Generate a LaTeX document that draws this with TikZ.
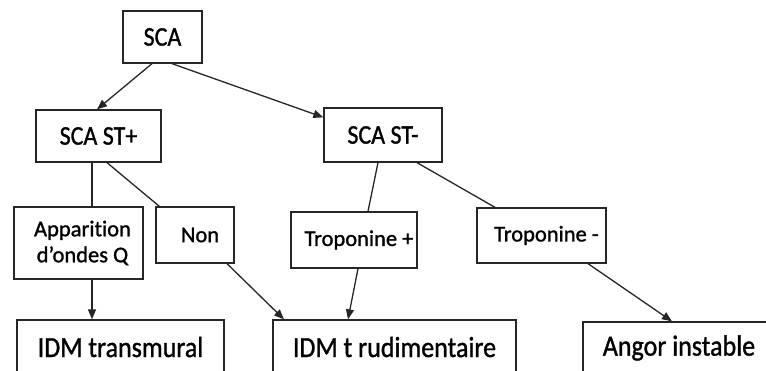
\documentclass[tikz,border=0pt]{standalone}
\usepackage{fontspec}
\setmainfont{Carlito}[FakeBold=1.2,Ligatures=NoCommon]
\usetikzlibrary{arrows.meta}
\newcommand{\tallq}[1]{\scalebox{1}[1.12]{#1}}
\begin{document}
\begin{tikzpicture}[x=1pt,y=-1pt,
  box/.style={draw=black!85,line width=1.3pt,rectangle,inner sep=0pt,align=center},
  mid/.style={box,font=\fontsize{22.5}{26}\selectfont},
  top/.style={box,font=\fontsize{24}{28}\selectfont},
  big/.style={box,font=\fontsize{26}{30}\selectfont},
  conn/.style={draw=black!85,line width=1.3pt},
  arr/.style={conn,-{Triangle[length=10pt,width=8pt]}}]
\useasboundingbox (0,0) rectangle (766,371);
\clip (0,0) rectangle (766,371);
\node[top,minimum width=79pt,minimum height=52pt] (sca) at (162.5,37) {\tallq{SCA}};
\node[top,minimum width=125pt,minimum height=52pt] (stp) at (98.5,136) {\tallq{SCA ST+}};
\node[top,minimum width=118pt,minimum height=54pt] (stm) at (383,135) {\tallq{SCA ST-}};
\node[mid,minimum width=129pt,minimum height=72pt] (app) at (78.5,243) {\hspace*{8pt}Apparition\\\hspace*{8pt}d’ondes Q};
\node[mid,minimum width=78pt,minimum height=56pt] (non) at (195,235) {\hspace*{10pt}Non};
\node[mid,minimum width=126pt,minimum height=56pt] (trp) at (354,240) {\hspace*{10pt}Troponine +};
\node[mid,minimum width=129pt,minimum height=55pt] (trm) at (541.5,235.5) {\hspace*{10pt}Troponine -};
\node[big,minimum width=207pt,minimum height=54pt] (idmt) at (120.5,347) {\tallq{IDM transmural}};
\node[big,minimum width=243pt,minimum height=54pt] (idmr) at (394.5,347) {\tallq{IDM t rudimentaire}};
\node[big,minimum width=192pt,minimum height=52pt] (ang) at (679,348) {\tallq{Angor instable}};
\draw[arr] ([xshift=-10.5pt]sca.south) -- ([xshift=-1.5pt]stp.north);
\draw[arr] ([xshift=9.5pt]sca.south) -- ([yshift=-10pt]stm.north west);
\draw[conn] ([xshift=-6.5pt]stp.south) -- ([xshift=13.5pt]app.north);
\draw[conn] ([xshift=8.5pt]stp.south) -- ([xshift=4pt]non.north west);
\draw[conn] ([xshift=-5pt]stm.south) -- ([xshift=14pt]trp.north);
\draw[conn] ([xshift=34pt]stm.south) -- ([xshift=-46.5pt]trm.north);
\draw[arr] ([xshift=13.5pt]app.south) -- ([xshift=-28.5pt]idmt.north);
\draw[arr] ([xshift=32pt]non.south) -- ([xshift=-110.5pt]idmr.north);
\draw[arr] ([xshift=4pt]trp.south) -- ([xshift=-46.5pt]idmr.north);
\draw[arr] ([xshift=46.5pt]trm.south) -- ([xshift=-7pt]ang.north);
\end{tikzpicture}
\end{document}
